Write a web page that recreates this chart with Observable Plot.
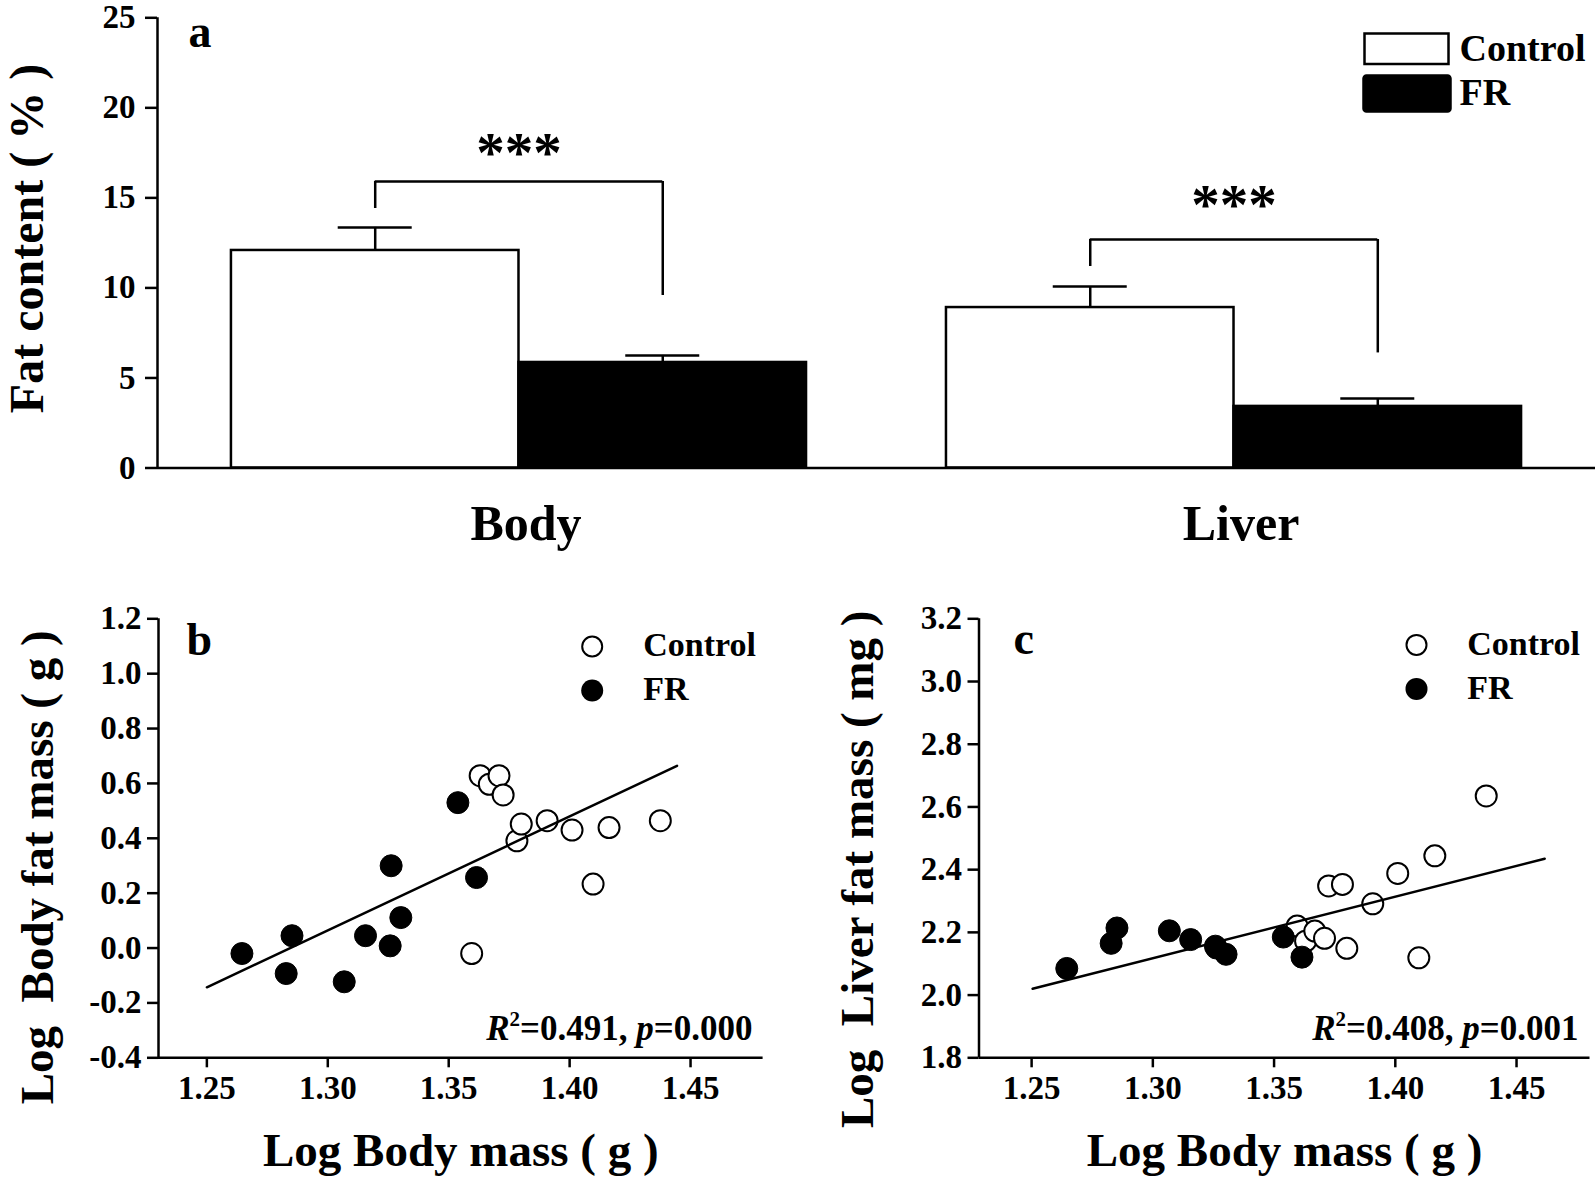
<!DOCTYPE html>
<html><head><meta charset="utf-8">
<script src="https://cdn.jsdelivr.net/npm/d3@7"></script>
<script src="https://cdn.jsdelivr.net/npm/@observablehq/plot@0.6"></script>
<style>
html,body{margin:0;padding:0;background:#fff;}
#fig{position:relative;width:1595px;height:1181px;background:#fff;overflow:hidden;}
#fig > svg{position:absolute;}
</style></head><body><div id="fig"></div>
<script>
// ---------- Panel a: fat content (%) ----------
const tissues = ["Body", "Liver"];
const groups = ["Control", "FR"];
const fatControl = [12.08, 8.91];
const fatControlSE = [1.28, 1.17];
const fatFR = [5.86, 3.42];
const fatFRSE = [0.39, 0.44];
const bracketTop = [15.91, 12.69];
const bracketLeftEnd = [14.41, 11.19];
const bracketRightEnd = [9.58, 6.39];
const sigLabels = ["***", "***"];
const sigLabelY = [17.9, 15.05];
const fatTicks = [0, 5, 10, 15, 20, 25];

// ---------- Panels b, c: log body mass vs log fat mass ----------
const massControl = [1.3595, 1.3630, 1.3668, 1.3708, 1.3725, 1.3782, 1.3800, 1.3907, 1.4010, 1.4097, 1.4163, 1.4375];
const bodyFatControl = [-0.020, 0.628, 0.597, 0.628, 0.558, 0.391, 0.452, 0.464, 0.430, 0.233, 0.439, 0.464];
const liverFatControl = [2.220, 2.172, 2.204, 2.181, 2.348, 2.353, 2.149, 2.291, 2.388, 2.119, 2.444, 2.635];
const massFR = [1.2645, 1.2828, 1.2852, 1.3068, 1.3156, 1.3258, 1.3262, 1.3302, 1.3538, 1.3615];
const bodyFatFR = [-0.020, -0.093, 0.045, -0.123, 0.045, 0.008, 0.300, 0.111, 0.530, 0.257];
const liverFatFR = [2.085, 2.165, 2.214, 2.205, 2.177, 2.156, 2.150, 2.130, 2.185, 2.121];
const fitMassB = [1.250, 1.4444];
const fitBodyFat = [-0.143, 0.664];
const fitMassC = [1.2504, 1.4616];
const fitLiverFat = [2.020, 2.435];
const massTicks = [1.25, 1.30, 1.35, 1.40, 1.45];
const bodyFatTicks = [-0.4, -0.2, 0, 0.2, 0.4, 0.6, 0.8, 1.0, 1.2];
const liverFatTicks = [1.8, 2.0, 2.2, 2.4, 2.6, 2.8, 3.0, 3.2];
const statsB = ["0.491", "0.000"];
const statsC = ["0.408", "0.001"];

const FONT = "'Liberation Serif','Times New Roman',Times,serif";
const SW = 2.5;
const fig = document.getElementById("fig");
const baseStyle = {fontFamily: FONT, fontWeight: "bold", background: "transparent", color: "black", overflow: "visible"};

// ---------- Panel a ----------
const A = {width: 1595, height: 570, marginLeft: 157, marginRight: 0, marginTop: 17.3, marginBottom: 102.5};
const padInner = 0.1957, padOuter = 0.1034;
const band = d3.scaleBand().domain(tissues).range([A.marginLeft, A.width - A.marginRight])
  .paddingInner(padInner).paddingOuter(padOuter);
const bw = band.bandwidth();
const q = bw / 4;
const capHalf = 37;
const ctrlBars = tissues.map((t, i) => ({tissue: t, value: fatControl[i], se: fatControlSE[i]}));
const frBars = tissues.map((t, i) => ({tissue: t, value: fatFR[i], se: fatFRSE[i]}));
const brackets = tissues.map((t, i) => ({tissue: t, top: bracketTop[i], left: bracketLeftEnd[i], right: bracketRightEnd[i], label: sigLabels[i], labelY: sigLabelY[i]}));
const leftShift = -(band(tissues[0]) + bw / 2 - A.marginLeft);

const plotA = Plot.plot({
  ...A,
  style: baseStyle,
  x: {type: "band", domain: tissues, paddingInner: padInner, paddingOuter: padOuter, round: false},
  y: {domain: [0, 25]},
  marks: [
    Plot.barY(ctrlBars, {x: "tissue", y: "value", insetRight: bw / 2, fill: "white", stroke: "black", strokeWidth: SW}),
    Plot.barY(frBars, {x: "tissue", y: "value", insetLeft: bw / 2, fill: "black", stroke: "black", strokeWidth: SW}),
    Plot.ruleX(ctrlBars, {x: "tissue", y1: "value", y2: d => d.value + d.se, dx: -q, strokeWidth: SW}),
    Plot.ruleX(frBars, {x: "tissue", y1: "value", y2: d => d.value + d.se, dx: q, strokeWidth: SW}),
    Plot.ruleY(ctrlBars, {x1: "tissue", x2: "tissue", y: d => d.value + d.se, insetLeft: q - capHalf, insetRight: 3 * q - capHalf, strokeWidth: SW}),
    Plot.ruleY(frBars, {x1: "tissue", x2: "tissue", y: d => d.value + d.se, insetLeft: 3 * q - capHalf, insetRight: q - capHalf, strokeWidth: SW}),
    Plot.ruleY(brackets, {x1: "tissue", x2: "tissue", y: "top", insetLeft: q, insetRight: q, strokeWidth: SW}),
    Plot.ruleX(brackets, {x: "tissue", y1: "left", y2: "top", dx: -q, strokeWidth: SW}),
    Plot.ruleX(brackets, {x: "tissue", y1: "right", y2: "top", dx: q, strokeWidth: SW}),
    Plot.text(brackets, {x: "tissue", y: "labelY", text: "label", lineAnchor: "middle", dy: 8.5, fontSize: 57}),
    Plot.ruleY([0], {strokeWidth: SW}),
    Plot.ruleX([tissues[0]], {x: d => d, y1: 0, y2: 25, dx: leftShift, strokeWidth: SW}),
    Plot.axisY({ticks: fatTicks, tickSize: 12, tickPadding: 10, fontSize: 33, strokeWidth: SW, tickFormat: d => String(d), label: null}),
    Plot.axisX({tickSize: 0, tickPadding: 36.7, fontSize: 50, dx: 7, label: null}),
    Plot.text(["Fat content ( % )"], {text: d => d, frameAnchor: "left", textAnchor: "middle", lineAnchor: "middle", rotate: -90, dx: -130, dy: -4.4, fontSize: 48}),
    Plot.text(["a"], {text: d => d, frameAnchor: "top-left", textAnchor: "start", lineAnchor: "top", dx: 31, dy: -3, fontSize: 46}),
    // legend swatches
    Plot.frame({insetLeft: 1207, insetRight: 147, insetTop: 15.7, insetBottom: 404, fill: "white", stroke: "black", strokeWidth: SW}),
    Plot.frame({insetLeft: 1206, insetRight: 145, insetTop: 57.7, insetBottom: 356.5, fill: "black", stroke: "black", strokeWidth: SW, rx: 3}),
    ...groups.map((g, i) => Plot.text([g], {text: d => d, frameAnchor: "top-left", textAnchor: "start", lineAnchor: "middle", dx: 1302, dy: 31.5 + i * 44, fontSize: 38}))
  ]
});
plotA.style.left = "0px"; plotA.style.top = "0px";
fig.appendChild(plotA);

// ---------- Panels b and c ----------
function richStats(svg) {
  const NS = "http://www.w3.org/2000/svg";
  svg.querySelectorAll("text").forEach(t => {
    const m = t.textContent.match(/^R²=(.*), p=(.*)$/);
    if (!m) return;
    t.textContent = "";
    const add = (txt, attrs) => {
      const ts = document.createElementNS(NS, "tspan");
      for (const k in attrs) ts.setAttribute(k, attrs[k]);
      ts.textContent = txt; t.appendChild(ts);
    };
    add("R", {"font-style": "italic"});
    add("2", {"font-size": "21", "dy": "-14"});
    add("=" + m[1] + ", ", {"dy": "14"});
    add("p", {"font-style": "italic"});
    add("=" + m[2], {});
  });
}

function scatter(o) {
  const ctrl = massControl.map((m, i) => ({mass: m, v: o.controlY[i]}));
  const fr = massFR.map((m, i) => ({mass: m, v: o.frY[i]}));
  const fit = o.fitX.map((x, i) => ({mass: x, v: o.fitY[i]}));
  const svg = Plot.plot({
    width: o.width, height: 601,
    marginLeft: o.ml, marginRight: o.mr, marginTop: 38.3, marginBottom: 123.7,
    style: baseStyle,
    x: {domain: o.xDomain},
    y: {domain: o.yDomain},
    marks: [
      Plot.axisX({ticks: massTicks, tickSize: 10, tickPadding: 8, fontSize: 33, strokeWidth: SW, tickFormat: d => d.toFixed(2), label: null}),
      Plot.axisY({ticks: o.yTicks, tickSize: 11, tickPadding: 6, fontSize: 33, strokeWidth: SW, tickFormat: d => d.toFixed(1), label: null}),
      Plot.ruleY([o.yDomain[0]], {strokeWidth: SW}),
      Plot.ruleX([o.xDomain[0]], {strokeWidth: SW}),
      Plot.dot(ctrl, {x: "mass", y: "v", r: 10.5, fill: "white", stroke: "black", strokeWidth: 2}),
      Plot.dot(fr, {x: "mass", y: "v", r: 11, fill: "black", stroke: "black", strokeWidth: 1}),
      Plot.line(fit, {x: "mass", y: "v", strokeWidth: SW}),
      // legend
      Plot.dot([groups[0]], {frameAnchor: "top-left", dx: o.legDx, dy: o.legDy, r: 10, fill: "white", stroke: "black", strokeWidth: 2}),
      Plot.dot([groups[1]], {frameAnchor: "top-left", dx: o.legDx, dy: o.legDy + 44, r: 11, fill: "black"}),
      ...groups.map((g, i) => Plot.text([g], {text: d => d, frameAnchor: "top-left", textAnchor: "start", lineAnchor: "middle", dx: o.legTextDx, dy: o.legDy - 1 + i * 44, fontSize: 34})),
      Plot.text([o.letter], {text: d => d, frameAnchor: "top-left", textAnchor: "start", lineAnchor: "top", dx: o.letterDx, dy: o.letterDy, fontSize: 46}),
      Plot.text([o.stats], {text: d => `R²=${d[0]}, p=${d[1]}`, frameAnchor: "bottom-right", textAnchor: "end", lineAnchor: "bottom", dx: o.statDx, dy: -17.4, fontSize: 35}),
      Plot.text([o.yLabel], {text: d => d, frameAnchor: "left", textAnchor: "middle", lineAnchor: "middle", rotate: -90, dx: -121, dy: o.yLabelDy, fontSize: 47}),
      Plot.text(["Log Body mass ( g )"], {text: d => d, frameAnchor: "bottom", textAnchor: "middle", lineAnchor: "middle", dy: 93, fontSize: 47})
    ]
  });
  richStats(svg);
  svg.style.left = o.left + "px"; svg.style.top = "580px";
  fig.appendChild(svg);
}

scatter({
  width: 797, left: 0, ml: 158, mr: 797 - 762.6,
  xDomain: [1.23, 1.48], yDomain: [-0.4, 1.2], yTicks: bodyFatTicks,
  controlY: bodyFatControl, frY: bodyFatFR, fitX: fitMassB, fitY: fitBodyFat,
  legDx: 433.7, legDy: 27.7, legTextDx: 484.7,
  letter: "b", letterDx: 28, letterDy: 4,
  stats: statsB, statDx: -10.6,
  yLabel: "Log\u00a0 Body fat mass ( g )", yLabelDy: 29
});
scatter({
  width: 795, left: 800, ml: 178.5, mr: 5.5,
  xDomain: [1.2283, 1.4803], yDomain: [1.8, 3.2], yTicks: liverFatTicks,
  controlY: liverFatControl, frY: liverFatFR, fitX: fitMassC, fitY: fitLiverFat,
  legDx: 437.5, legDy: 26.1, legTextDx: 488.3,
  letter: "c", letterDx: 34.5, letterDy: 3,
  stats: statsC, statDx: -11.5,
  yLabel: "Log\u00a0 Liver fat mass ( mg )", yLabelDy: 31
});
</script>
</body></html>
